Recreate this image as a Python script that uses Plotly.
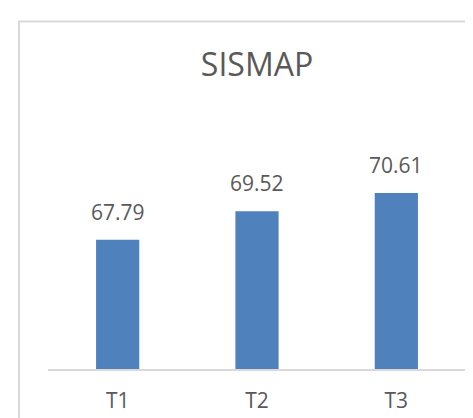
import plotly.graph_objects as go

categories = ["T1", "T2", "T3"]
values = [67.79, 69.52, 70.61]
axis_min = 60
axis_max = 72
title_text = "SISMAP"

bar_color = "#4F81BD"
text_color = "#595959"
line_color = "#D9D9D9"
font_family = "Open Sans, Segoe UI, sans-serif"

fig = go.Figure()
fig.add_trace(go.Bar(
    x=categories,
    y=[v - axis_min for v in values],
    base=axis_min,
    marker=dict(color=bar_color, line=dict(width=0)),
    hoverinfo="skip",
))

for c, v in zip(categories, values):
    fig.add_annotation(
        x=c, y=v, text=f"{v:.2f}", showarrow=False,
        yanchor="bottom", yshift=12,
        font=dict(size=21, color=text_color, family=font_family),
    )

fig.update_layout(
    width=473, height=418,
    margin=dict(l=40, r=15, t=162, b=55),
    paper_bgcolor="white", plot_bgcolor="white",
    bargap=0.69,
    showlegend=False,
    title=dict(
        text=title_text, x=0.5, xref="paper", xanchor="center",
        y=1 - 57 / 418, yref="container", yanchor="middle",
        font=dict(size=32, color=text_color, family=font_family),
    ),
    xaxis=dict(
        showline=True, linecolor=line_color, linewidth=1.5,
        showgrid=False, ticks="", zeroline=False,
        tickfont=dict(size=21, color=text_color, family=font_family),
        ticklabelstandoff=12,
    ),
    yaxis=dict(
        range=[axis_min, axis_max], visible=False, showgrid=False, zeroline=False,
    ),
    shapes=[dict(
        type="rect", xref="paper", yref="paper",
        x0=(11 - 40) / 418, x1=1.5, y0=-1, y1=(363 - 12) / 201,
        line=dict(color=line_color, width=2), fillcolor="rgba(0,0,0,0)",
        layer="below",
    )],
)

fig.write_html("out.html")
